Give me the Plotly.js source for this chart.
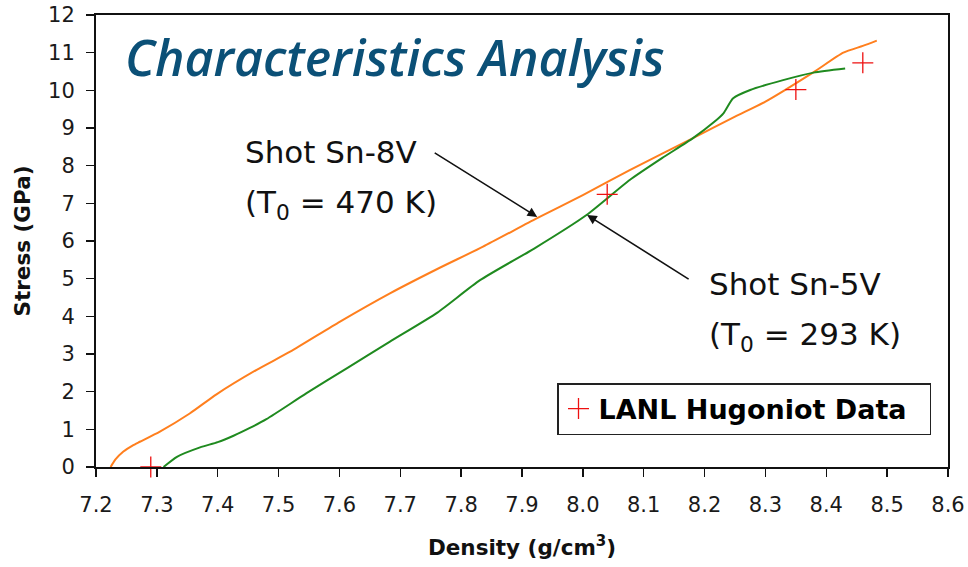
<!DOCTYPE html>
<html>
<head>
<meta charset="utf-8">
<script src="https://cdn.plot.ly/plotly-3.0.1.min.js"></script>
<style>html,body{margin:0;padding:0;background:#fff;}#chart{width:968px;height:567px;}</style>
</head>
<body>
<div id="chart"></div>
<script>
// Shot Sn-8V (T0 = 470 K)
const sn8vDensity = [7.224, 7.232, 7.245, 7.26, 7.272, 7.305, 7.354, 7.398, 7.464, 7.519, 7.601, 7.683, 7.76, 7.836, 7.924, 8.0, 8.077, 8.181, 8.25, 8.3, 8.378, 8.428, 8.46, 8.483];
const sn8vStress  = [0, 0.2, 0.41, 0.57, 0.67, 0.94, 1.42, 1.93, 2.58, 3.06, 3.86, 4.61, 5.25, 5.85, 6.6, 7.22, 7.88, 8.73, 9.3, 9.7, 10.47, 11.0, 11.18, 11.32];
// Shot Sn-5V (T0 = 293 K)
const sn5vDensity = [7.311, 7.333, 7.371, 7.40, 7.426, 7.452, 7.48, 7.546, 7.612, 7.683, 7.761, 7.831, 7.92, 8.006, 8.077, 8.13, 8.181, 8.215, 8.231, 8.247, 8.275, 8.329, 8.379, 8.431];
const sn5vStress  = [0, 0.27, 0.52, 0.66, 0.83, 1.03, 1.27, 1.96, 2.62, 3.33, 4.1, 4.96, 5.8, 6.69, 7.62, 8.2, 8.73, 9.15, 9.39, 9.79, 10.01, 10.27, 10.47, 10.58];
// LANL Hugoniot data
const hugDensity = [7.29, 8.04, 8.35, 8.46];
const hugStress  = [0, 7.24, 10.02, 10.73];

const xTickVals = [7.2, 7.3, 7.4, 7.5, 7.6, 7.7, 7.8, 7.9, 8.0, 8.1, 8.2, 8.3, 8.4, 8.5, 8.6];
const xTickText = ['7.2','7.3','7.4','7.5','7.6','7.7','7.8','7.9','8.0','8.1','8.2','8.3','8.4','8.5','8.6'];
const yTickVals = [0,1,2,3,4,5,6,7,8,9,10,11,12];

const sans = 'DejaVu Sans, Liberation Sans, Arial, sans-serif';
const axisFont = {family: sans, size: 21, color: '#1a1a1a'};
const titleFont = {family: sans, size: 21.5, color: '#111', weight: 700};

const traces = [
  {x: sn8vDensity, y: sn8vStress, mode: 'lines', line: {color: '#ff7f1e', width: 2, shape: 'spline', smoothing: 0.6}, showlegend: false, name: 'Shot Sn-8V'},
  {x: sn5vDensity, y: sn5vStress, mode: 'lines', line: {color: '#1f8a1f', width: 2, shape: 'spline', smoothing: 0.6}, showlegend: false, name: 'Shot Sn-5V'},
  {x: hugDensity, y: hugStress, mode: 'markers', cliponaxis: false,
   marker: {symbol: 'cross-thin', size: 15, line: {color: '#ee1111', width: 1.3}, color: '#ee1111'},
   name: '<b>LANL Hugoniot Data</b>&nbsp;&nbsp;', showlegend: true}
];

const annFont = {family: sans, size: 31, color: '#111'};
const layout = {
  width: 968, height: 567,
  margin: {l: 96, r: 20, t: 15, b: 100},
  paper_bgcolor: '#fff', plot_bgcolor: '#fff',
  title: {text: 'Characteristics Analysis', x: 125/968, xref: 'container', xanchor: 'left',
          y: 1 - 58/567, yref: 'container', yanchor: 'middle',
          font: {family: 'Open Sans', size: 50, color: '#0b5077', weight: 600, style: 'italic'}},
  xaxis: {range: [7.2, 8.6], tickvals: xTickVals, ticktext: xTickText, ticks: 'outside', ticklen: 8, tickwidth: 1.5,
          tickcolor: '#111', showline: true, linecolor: '#111', linewidth: 2, mirror: true, showgrid: false, zeroline: false,
          tickfont: axisFont, ticklabelstandoff: 10,
          title: {text: 'Density (g/cm<sup>3</sup>)', font: titleFont, standoff: 24}},
  yaxis: {range: [0, 12], tickvals: yTickVals, ticks: 'outside', ticklen: 8, tickwidth: 1.5,
          tickcolor: '#111', showline: true, linecolor: '#111', linewidth: 2, mirror: true, showgrid: false, zeroline: false,
          tickfont: axisFont, ticklabelstandoff: 7,
          title: {text: 'Stress (GPa)', font: titleFont, standoff: 12}},
  legend: {x: (557-96)/852, y: (467-383)/452, xanchor: 'left', yanchor: 'top', bgcolor: '#fff',
           bordercolor: '#222', borderwidth: 1.5, font: {family: sans, size: 27, color: '#000'}},
  annotations: [
    {xref: 'paper', yref: 'paper', x: (243-96)/852, y: (467-152)/452, xanchor: 'left', yanchor: 'middle', text: 'Shot Sn-8V', showarrow: false, font: annFont},
    {xref: 'paper', yref: 'paper', x: (243-96)/852, y: (467-204)/452, xanchor: 'left', yanchor: 'middle', text: '(T<sub>0</sub> = 470 K)', showarrow: false, font: annFont},
    {xref: 'paper', yref: 'paper', x: (707-96)/852, y: (467-284)/452, xanchor: 'left', yanchor: 'middle', text: 'Shot Sn-5V', showarrow: false, font: annFont},
    {xref: 'paper', yref: 'paper', x: (707-96)/852, y: (467-336)/452, xanchor: 'left', yanchor: 'middle', text: '(T<sub>0</sub> = 293 K)', showarrow: false, font: annFont},
    {xref: 'x', yref: 'y', x: 7.925, y: 6.64, ax: -104, ay: -65, text: '', showarrow: true, arrowhead: 2, arrowsize: 1.2, arrowwidth: 1.6, arrowcolor: '#111'},
    {xref: 'x', yref: 'y', x: 8.007, y: 6.69, ax: 103, ay: 65, text: '', showarrow: true, arrowhead: 2, arrowsize: 1.2, arrowwidth: 1.6, arrowcolor: '#111'}
  ]
};

Plotly.newPlot('chart', traces, layout, {displayModeBar: false, staticPlot: true});
</script>
</body>
</html>
